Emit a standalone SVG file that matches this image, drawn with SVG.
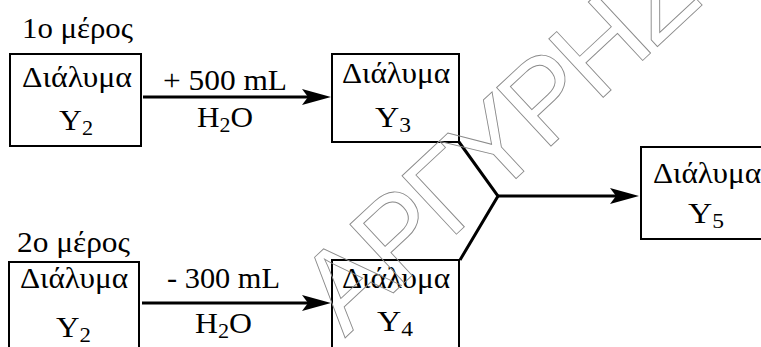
<svg xmlns="http://www.w3.org/2000/svg" width="761" height="347" viewBox="0 0 761 347">
<style>
.box{fill:#fff;stroke:#000;stroke-width:2}
.t{font-family:'Liberation Serif','Times New Roman',serif;font-size:30px;fill:#000}
.s{font-size:21px}
.c{stroke:#000;stroke-width:3;fill:none}
.ah{fill:#000;stroke:none}
.wm{font-family:'Liberation Sans',Arial,sans-serif;font-size:116px;letter-spacing:-6px;fill:none;stroke:#8a8a8a;stroke-width:0.9}
</style>
<rect width="761" height="347" fill="#fff"/>
<text class="t" x="22" y="38" textLength="111" lengthAdjust="spacingAndGlyphs">1ο μέρος</text>
<text class="t" x="17" y="252" textLength="113" lengthAdjust="spacingAndGlyphs">2ο μέρος</text>
<g id="n1">
<rect class="box" x="10" y="54" width="131" height="92"/>
<text class="t" x="22" y="87" textLength="110" lengthAdjust="spacingAndGlyphs">Διάλυμα</text>
<text class="t" x="59" y="130" textLength="34" lengthAdjust="spacingAndGlyphs">Y<tspan class="s" dy="5">2</tspan></text>
</g>
<g id="n3">
<rect class="box" x="332" y="54" width="127" height="88"/>
<text class="t" x="342" y="83" textLength="108" lengthAdjust="spacingAndGlyphs">Διάλυμα</text>
<text class="t" x="375" y="127" textLength="36" lengthAdjust="spacingAndGlyphs">Y<tspan class="s" dy="5">3</tspan></text>
</g>
<g id="n5">
<rect class="box" x="641" y="147" width="140" height="92"/>
<text class="t" x="653" y="183" textLength="108" lengthAdjust="spacingAndGlyphs">Διάλυμα</text>
<text class="t" x="688" y="223" textLength="36" lengthAdjust="spacingAndGlyphs">Y<tspan class="s" dy="5">5</tspan></text>
</g>
<g id="n2">
<rect class="box" x="9" y="262" width="130" height="100"/>
<text class="t" x="20" y="288" textLength="108" lengthAdjust="spacingAndGlyphs">Διάλυμα</text>
<text class="t" x="56" y="337" textLength="35" lengthAdjust="spacingAndGlyphs">Y<tspan class="s" dy="5">2</tspan></text>
</g>
<g id="n4">
<rect class="box" x="332" y="260" width="127" height="100"/>
<text class="t" x="342" y="288" textLength="108" lengthAdjust="spacingAndGlyphs">Διάλυμα</text>
<text class="t" x="377" y="331" textLength="36" lengthAdjust="spacingAndGlyphs">Y<tspan class="s" dy="5">4</tspan></text>
</g>
<g id="connectors">
<path class="c" d="M143,97 H312"/>
<polygon class="ah" points="331,97 302,89 308,97 302,105"/>
<path class="c" d="M142,303 H312"/>
<polygon class="ah" points="331,303 302,295 308,303 302,311"/>
<path class="c" d="M459,142 L498,196 L460,260"/>
<path class="c" d="M498,196 H620"/>
<polygon class="ah" points="639,196 610,188 616,196 610,204"/>
<text class="t" x="163" y="90" textLength="124" lengthAdjust="spacingAndGlyphs">+ 500 mL</text>
<text class="t" x="197" y="127" textLength="56" lengthAdjust="spacingAndGlyphs">H<tspan class="s" dy="5">2</tspan><tspan dy="-5">O</tspan></text>
<text class="t" x="167" y="288" textLength="113" lengthAdjust="spacingAndGlyphs">- 300 mL</text>
<text class="t" x="195" y="333" textLength="57" lengthAdjust="spacingAndGlyphs">H<tspan class="s" dy="5">2</tspan><tspan dy="-5">O</tspan></text>
</g>
<text class="wm" transform="translate(345,338) rotate(-43)">ΑΡΓΥΡΗΣ</text>
</svg>
